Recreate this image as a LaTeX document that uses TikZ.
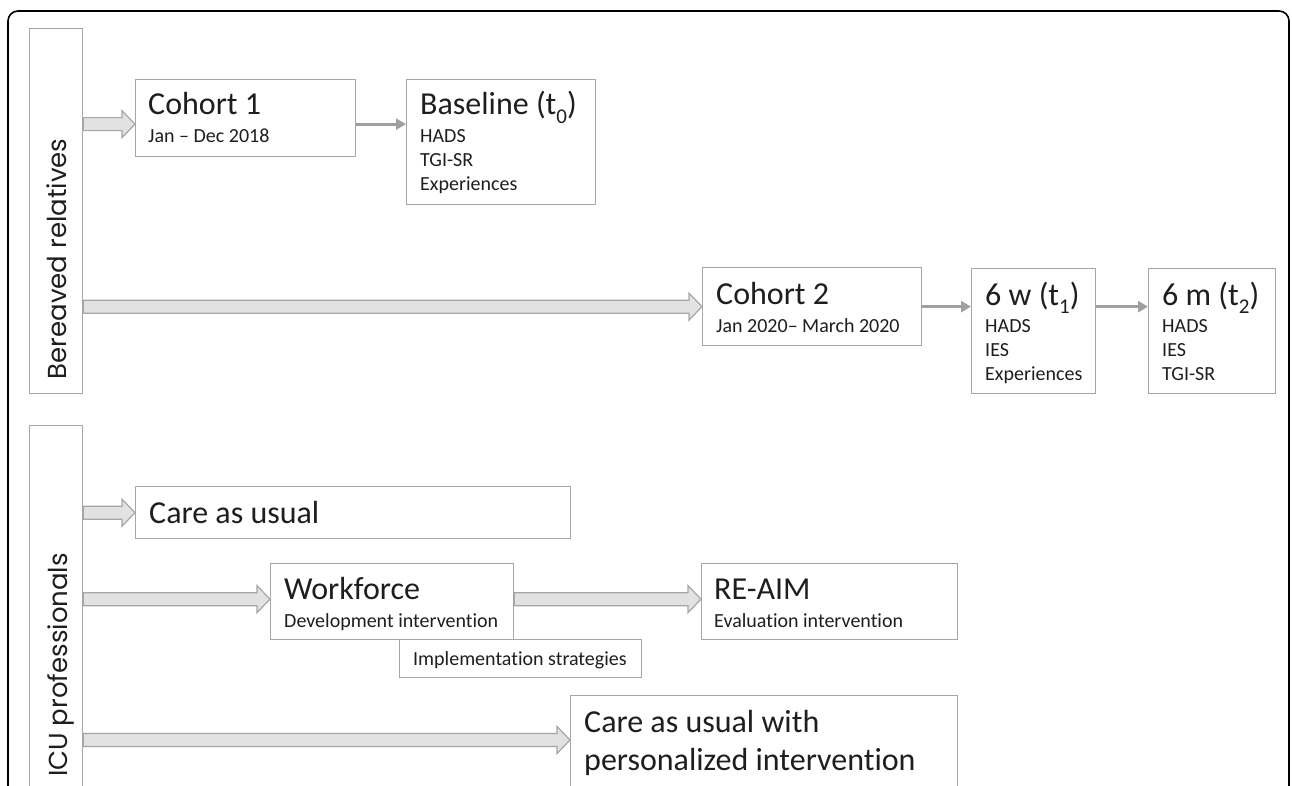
\documentclass[tikz,border=0pt]{standalone}
\usepackage{fontspec}
\setmainfont{Carlito}[Ligatures=NoCommon]
\newfontfamily\sidefont{Poppins}
\usetikzlibrary{arrows.meta,calc}
\definecolor{boxgray}{HTML}{A6A6A6}
\definecolor{arrfill}{HTML}{E2E2E2}
\definecolor{arrgray}{HTML}{A0A0A0}
\definecolor{txt}{HTML}{1E1E1E}
\tikzset{
  box/.style={draw=boxgray, line width=1.3pt, fill=white, inner sep=0pt, anchor=north west},
  bigtxt/.style={font=\fontsize{32}{38}\selectfont, text=txt, anchor=base west, inner sep=0pt},
  smalltxt/.style={font=\fontsize{20}{24}\selectfont, text=txt, anchor=base west, inner sep=0pt},
  sidetxt/.style={font=\sidefont\fontsize{26}{30}\selectfont, text=txt, rotate=90, anchor=base, inner sep=0pt},
  thinarrow/.style={draw=arrgray, line width=2.8pt, -{Triangle[length=10pt,width=11pt]}},
  fatarr/.style={draw=boxgray, fill=arrfill, line width=1.2pt, line join=miter},
}
\newcommand\fatarrow[2]{%
  \path[fatarr] let \p1=(#1), \p2=(#2) in
    (\x1,\y2+6.5pt) -- (\x2-13pt,\y2+6.5pt) -- (\x2-13pt,\y2+13.5pt) -- (\x2,\y2)
    -- (\x2-13pt,\y2-13.5pt) -- (\x2-13pt,\y2-6.5pt) -- (\x1,\y2-6.5pt) -- cycle;}
\newcommand\subsc[1]{\raisebox{-0.28em}{\fontsize{21}{21}\selectfont #1}}
\begin{document}
\begin{tikzpicture}[x=1pt,y=-1pt]
\useasboundingbox (0,0) rectangle (1292,786);
\clip (0,0) rectangle (1292,786);
\fill[white] (0,0) rectangle (1292,786);
% outer frame
\draw[line width=1.6pt, rounded corners=10pt] (8,11) rectangle (1289,950);

% side boxes
\node[box, minimum width=53pt, minimum height=365pt] (ber) at (29,28) {};
\node[box, minimum width=53pt, minimum height=500pt] (icu) at (29,425) {};
\node[sidetxt] (bert) at (66.5,259) {Bereaved relatives};
\node[sidetxt] (icut) at (67,665) {ICU professionals};

% boxes
\node[box, minimum width=220pt, minimum height=77pt] (c1) at (135,79) {};
\node[box, minimum width=189pt, minimum height=125pt] (base) at (406,79) {};
\node[box, minimum width=219pt, minimum height=78pt] (c2) at (702,267) {};
\node[box, minimum width=124pt, minimum height=125pt] (w6) at (971,268) {};
\node[box, minimum width=127pt, minimum height=125pt] (m6) at (1148,268) {};
\node[box, minimum width=435pt, minimum height=52pt] (care) at (135,486) {};
\node[box, minimum width=243pt, minimum height=76pt] (work) at (270,563) {};
\node[box, minimum width=256pt, minimum height=76pt] (reaim) at (701,563) {};
\node[box, minimum width=387pt, minimum height=110pt] (cpers) at (570,695) {};

\coordinate (a1) at ([yshift=-6pt]c1.west);
\coordinate (a1e) at ([yshift=-6pt]c1.east);
\coordinate (a3) at ([yshift=2.5pt]work.west);
\coordinate (a3e) at ([yshift=2.5pt]work.east);
\coordinate (a4) at ([yshift=-45pt]cpers.north west);

% fat arrows
\fatarrow{ber.east}{a1}
\fatarrow{ber.east}{c2.west}
\fatarrow{icu.east}{care.west}
\fatarrow{icu.east}{a3}
\fatarrow{a3e}{a3e -| reaim.west}
\fatarrow{icu.east}{a4}

% boxes drawn over arrow ends
\node[box, minimum width=243pt, minimum height=76pt] (workb2) at (270,563) {};
\node[box, minimum width=242pt, minimum height=38pt] (impl) at (399,639) {};

% thin arrows
\draw[thinarrow] (a1e) -- (a1e -| base.west);
\draw[thinarrow] (c2.east) -- (c2.east -| w6.west);
\draw[thinarrow] (w6.east |- c2.east) -- (m6.west |- c2.east);

% texts
\node[bigtxt] (c1a) at ($(c1.north west)+(13,36)$) {Cohort 1};
\node[smalltxt] (c1b) at ($(c1.north west)+(13,64)$) {Jan – Dec 2018};

\node[bigtxt] (ba) at ($(base.north west)+(14,36)$) {Baseline (t\subsc{0})};
\node[smalltxt] (bb) at ($(base.north west)+(14,64)$) {HADS};
\node[smalltxt] (bc) at ($(base.north west)+(14,88)$) {TGI-SR};
\node[smalltxt] (bd) at ($(base.north west)+(14,112)$) {Experiences};

\node[bigtxt] (c2a) at ($(c2.north west)+(14,37)$) {Cohort 2};
\node[smalltxt] (c2b) at ($(c2.north west)+(14,65)$) {Jan 2020– March 2020};

\node[bigtxt] (wa) at ($(w6.north west)+(14,37)$) {6 w (t\subsc{1})};
\node[smalltxt] (wb) at ($(w6.north west)+(14,64)$) {HADS};
\node[smalltxt] (wc) at ($(w6.north west)+(14,88)$) {IES};
\node[smalltxt] (wd) at ($(w6.north west)+(14,112)$) {Experiences};

\node[bigtxt] (ma) at ($(m6.north west)+(14,37)$) {6 m (t\subsc{2})};
\node[smalltxt] (mb) at ($(m6.north west)+(14,64)$) {HADS};
\node[smalltxt] (mc) at ($(m6.north west)+(14,88)$) {IES};
\node[smalltxt] (md) at ($(m6.north west)+(14,112)$) {TGI-SR};

\node[bigtxt] (carea) at ($(care.north west)+(14,37)$) {Care as usual};

\node[bigtxt] (worka) at ($(work.north west)+(14,36)$) {Workforce};
\node[smalltxt] (workb) at ($(work.north west)+(14,64)$) {Development intervention};

\node[bigtxt] (ra) at ($(reaim.north west)+(13,36)$) {RE-AIM};
\node[smalltxt] (rb) at ($(reaim.north west)+(13,64)$) {Evaluation intervention};

\node[smalltxt] (impla) at ($(impl.north west)+(14,26)$) {Implementation strategies};

\node[bigtxt] (cpa) at ($(cpers.north west)+(14,37)$) {Care as usual with};
\node[bigtxt] (cpb) at ($(cpers.north west)+(14,75)$) {personalized intervention};
\end{tikzpicture}
\end{document}
